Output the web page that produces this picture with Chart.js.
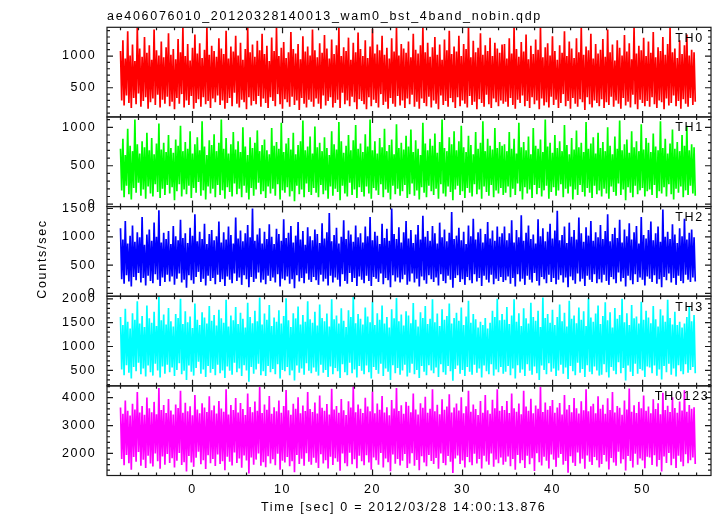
<!DOCTYPE html>
<html>
<head>
<meta charset="utf-8">
<title>ae406076010 wam0 bst 4band</title>
<script src="https://cdn.jsdelivr.net/npm/chart.js@4.4.1/dist/chart.umd.min.js"></script>
<style>
  html, body { margin: 0; padding: 0; background: #fff; }
  canvas { display: block; }
</style>
</head>
<body>
<canvas id="lc" width="717" height="516"></canvas>
<script>
// ---- light curve data (counts/sec) ----
// each band: upper and lower excursions, alternating in time
const T_START = -8;      // sec
const T_BIN = 0.1333;    // sec between points

const TH0_HI = [
  1080,1250,960,1390,1010,1180,920,1450,1120,990,1300,1050,1170,940,1420,1090,1010,1230,980,1140,
  1360,1020,1110,950,1270,1060,1450,1000,1190,930,1130,1340,1040,1200,970,1100,1450,1020,1160,1080,
  990,1280,1120,1030,1400,960,1150,1070,1320,1010,1210,940,1110,1450,1060,1180,990,1240,1090,1350,
  1030,1160,920,1290,1080,1450,1000,1130,1220,970,1060,1380,1110,1040,1190,950,1310,1070,1150,1010,
  1420,1090,980,1200,1050,1330,1120,960,1260,1030,1170,1450,1000,1140,1080,1290,940,1210,1060,1370,
  1110,1000,1250,970,1150,1430,1040,1180,1090,1320,1020,1130,960,1280,1070,1450,1010,1190,1120,1050,
  1230,980,1350,1100,1040,1170,1450,1060,1210,990,1140,1300,1020,1180,940,1260,1090,1400,1030,1150,
  1070,1320,1000,1190,1110,1450,980,1240,1060,1130,1360,1020,1170,1080,1290,1000,1210,1120,1050,1180,
  1190,960,1280,1040,1450,1110,990,1220,1070,1340,950,1160,1030,1260,1100,1450,980,1140,1200,1010,
  1310,1080,940,1170,1050,1390,1000,1230,1120,970,1280,1060,1450,1020,1150,1090,1350,960,1190,1040,
  1100,1270,990,1420,1060,1180,930,1250,1130,1010,1330,1070,1200,950,1450,1040,1160,1090,1290,1000,
  1230,1050,1380,980,1140,1080,1300,1020,1190,1450,1060,1120,970,1250,1030,1170,1340,1010,1100,1060
];
const TH0_LO = [
  300,220,380,260,180,340,240,410,200,290,350,170,270,330,230,390,190,310,250,360,
  210,280,160,340,250,400,190,300,230,370,170,260,320,200,350,240,290,180,330,270,
  380,230,300,170,260,340,210,420,250,190,310,270,160,350,220,290,240,370,200,330,
  260,180,350,290,210,400,240,170,320,270,200,360,230,300,150,340,250,190,310,280,
  200,330,250,170,380,220,290,350,190,260,310,180,420,240,300,210,360,270,160,320,
  290,240,160,350,210,310,260,190,400,230,280,170,340,250,200,370,220,300,180,330,
  240,390,200,280,170,330,260,210,360,190,300,250,160,380,230,290,200,340,270,180,
  350,210,300,250,190,370,230,280,160,320,260,200,390,240,180,330,270,210,300,250,
  280,200,340,230,170,310,260,380,210,290,180,350,240,300,160,330,220,270,190,360,
  230,310,180,260,400,210,290,170,340,250,200,320,270,150,350,240,190,300,260,210,
  320,180,270,230,360,200,300,250,170,340,220,280,190,390,240,160,310,260,210,290,
  200,350,240,180,300,270,160,330,220,260,380,210,290,170,320,250,200,340,230,280
];

const TH1_HI = [
  720,850,640,980,760,690,1100,780,660,820,740,930,700,860,650,790,1050,710,800,680,
  900,730,670,840,760,1020,690,810,720,950,660,780,870,700,1080,750,640,830,770,910,
  690,800,1100,720,860,660,780,940,710,820,680,1000,750,640,870,730,800,960,690,770,
  840,700,650,990,760,810,720,1060,680,790,860,710,930,650,770,820,1090,700,750,880,
  660,1010,740,800,690,870,730,640,950,780,710,1070,820,670,760,900,700,830,1030,720,
  790,680,910,750,1100,700,820,660,860,740,980,690,770,840,650,1040,730,800,710,890,
  750,970,680,830,720,640,1060,790,700,850,760,920,670,810,1100,730,690,870,780,950,
  700,820,1020,740,680,890,770,650,940,720,800,1080,690,850,760,710,990,730,810,760,
  780,690,940,720,850,660,1060,740,810,700,880,650,990,760,720,840,680,1100,750,800,
  670,900,730,820,690,1030,770,650,860,710,960,740,800,680,1070,720,790,870,660,930,
  730,810,690,1000,760,650,880,720,1090,700,780,840,670,950,740,820,690,1040,710,860,
  800,680,920,750,700,1080,730,850,660,790,970,720,810,690,900,760,1020,700,780,740
];
const TH1_LO = [
  180,90,240,130,60,210,150,280,110,190,70,230,140,100,260,160,80,200,120,250,
  140,220,50,170,260,100,190,130,240,80,210,150,290,110,180,60,230,140,200,90,
  250,120,180,70,220,160,100,270,130,200,90,240,150,60,210,110,190,280,130,170,
  80,230,140,200,110,260,60,180,150,220,100,170,40,240,130,190,90,270,160,120,
  210,150,90,250,130,180,70,230,110,200,160,50,240,140,100,280,120,190,80,220,
  160,100,230,140,70,210,180,120,260,90,190,150,60,240,130,200,110,170,250,80,
  130,270,110,180,60,220,150,90,240,170,120,200,70,260,140,100,230,160,50,190,
  240,120,170,80,210,150,100,260,130,190,70,230,160,110,250,90,180,140,210,120,
  150,230,90,200,120,270,170,60,220,140,190,80,250,130,210,100,180,240,70,160,
  220,110,180,260,90,200,140,230,60,190,120,250,160,100,210,150,80,240,130,180,
  100,200,140,70,230,160,110,270,120,190,50,220,150,90,240,130,180,210,100,170,
  190,120,250,80,170,140,220,100,260,130,60,200,150,230,90,180,120,240,140,110
];

const TH2_HI = [
  1150,950,1280,880,1020,1200,910,1080,990,1350,860,1040,1130,930,1250,1000,1470,900,1070,960,
  1100,870,1190,1010,940,1300,980,1060,890,1160,1020,1400,920,1090,960,1230,870,1050,1120,940,
  1010,1270,900,1080,950,1180,1030,880,1340,970,1110,920,1060,1210,990,1500,930,1040,1150,880,
  1090,960,1220,1000,870,1140,1050,930,1310,980,1070,1190,900,1020,1260,950,1100,860,1170,1010,
  940,1130,1050,890,1240,970,1080,1420,920,1030,1160,880,1000,1290,960,1110,1040,910,1200,990,
  1060,900,1180,1010,1350,940,1090,1020,870,1230,980,1140,930,1500,1050,960,1170,900,1080,1280,
  970,1120,890,1040,1210,950,1370,1000,1100,930,1190,1060,880,1250,990,1130,920,1070,1440,960,
  1020,1160,940,1090,870,1200,1010,1320,950,1080,1140,900,1050,1260,970,1110,930,1180,1000,1060,
  1180,940,1060,1290,900,1120,990,1380,930,1070,1200,960,1040,880,1310,1010,1150,920,1090,1230,
  970,1110,1460,940,1030,1180,890,1250,1000,1120,950,1340,1060,910,1170,1020,1280,930,1080,990,
  1210,960,1100,1400,920,1050,1160,980,1300,900,1130,1010,1240,950,1080,1190,880,1350,1030,970,
  1120,1270,940,1060,1180,910,1480,1000,1090,960,1220,1040,890,1150,1010,1320,950,1070,1130,990
];
const TH2_LO = [
  250,170,320,210,120,290,230,360,190,270,140,310,220,180,340,240,130,280,200,330,
  210,300,150,260,350,190,240,100,320,230,170,290,380,200,260,140,310,220,270,160,
  330,200,250,130,300,240,180,350,220,280,150,320,250,110,290,200,260,370,190,240,
  160,310,220,280,190,340,120,260,230,300,170,250,90,320,210,270,180,350,240,200,
  290,230,150,330,210,260,140,310,190,280,240,120,340,220,170,360,200,270,130,300,
  240,180,310,220,130,290,260,200,350,160,270,230,110,320,210,280,190,250,330,150,
  210,350,190,260,120,300,230,170,320,250,200,280,140,340,220,180,310,240,100,270,
  320,200,250,150,290,230,180,340,210,270,130,310,240,190,330,160,260,220,290,200,
  230,300,170,270,120,340,210,260,150,310,240,190,360,220,140,290,250,180,330,200,
  270,160,240,320,190,280,110,300,230,170,350,210,260,130,310,240,200,340,180,250,
  190,330,220,150,290,250,180,370,210,270,120,310,230,160,340,200,280,240,140,300,
  260,200,320,170,250,110,290,230,350,190,270,150,310,220,180,330,240,200,280,210
];

const TH3_HI = [
  1620,1450,1790,1520,1380,1700,1560,1950,1480,1640,1410,1860,1590,1500,1730,1430,2040,1550,1670,1460,
  1810,1530,1420,1680,1600,2000,1470,1740,1510,1630,1390,1900,1560,1450,1720,1610,1480,1850,1540,1660,
  1440,1770,1590,1500,1980,1420,1650,1550,1830,1470,1710,1580,1400,1920,1620,1490,1750,1530,2030,1460,
  1690,1560,1870,1430,1610,1520,1760,1480,1640,2010,1550,1410,1700,1590,1840,1460,1660,1520,1950,1570,
  1500,1730,1440,1880,1600,1530,1690,1420,1990,1570,1650,1480,1800,1540,1410,1760,1620,2040,1490,1680,
  1580,1460,1820,1630,1510,1940,1450,1700,1560,1860,1480,1620,1400,1780,1590,2020,1530,1670,1440,1740,
  1650,1490,1910,1560,1420,1720,1600,1850,1470,1580,1990,1510,1690,1430,1780,1560,1640,1900,1480,1600,
  1710,1540,1820,1450,1630,1960,1500,1680,1570,1400,1520,1450,1600,1380,1500,1750,1620,2000,1550,1680,
  1560,1830,1470,1650,1990,1520,1700,1430,1800,1590,1480,1920,1620,1540,1750,1410,2030,1600,1680,1500,
  1770,1450,1620,1880,1530,1710,1420,1960,1580,1650,1490,1820,1560,1740,1430,2010,1610,1520,1690,1860,
  1470,1640,1930,1550,1720,1400,1810,1580,1660,2000,1510,1700,1450,1870,1590,1630,1480,1940,1560,1750,
  1610,1490,1850,1570,1420,1780,1650,1520,1980,1600,1460,1730,1450,1520,1400,1480,1620,1840,1530,1660
];
const TH3_LO = [
  520,400,610,450,330,570,480,660,420,540,370,600,460,390,640,500,350,580,430,620,
  460,560,380,510,650,420,490,300,600,470,390,550,680,430,520,360,590,450,530,400,
  620,440,500,340,580,490,410,660,460,540,380,610,500,260,570,430,520,640,400,480,
  380,590,460,530,420,630,330,510,480,570,400,500,290,600,450,540,410,650,490,440,
  560,470,390,620,450,510,360,580,420,550,480,340,630,460,400,660,440,520,350,590,
  490,420,600,460,330,570,510,430,640,380,540,470,300,610,440,550,410,500,620,370,
  450,640,420,510,340,590,470,400,610,500,440,560,360,630,460,410,590,480,280,530,
  600,430,510,380,570,470,410,620,450,540,350,600,480,420,630,390,520,460,570,430,
  470,590,400,540,330,610,450,520,380,630,490,410,580,440,300,600,510,420,650,470,
  540,380,500,620,430,560,320,590,480,400,660,450,530,360,610,470,420,580,500,390,
  410,630,460,350,570,490,420,670,440,550,290,600,470,380,640,430,530,500,360,580,
  560,440,600,390,520,310,590,460,640,410,540,370,610,480,420,630,450,510,570,440
];

const TH0123_HI = [
  3650,3420,3900,3530,3360,3780,3580,4200,3470,3700,3390,4010,3620,3480,3850,3410,4350,3560,3740,3450,
  3950,3540,3400,3760,3630,4250,3460,3820,3510,3690,3370,4100,3580,3440,3800,3650,3490,4050,3550,3720,
  3430,3880,3610,3500,4300,3400,3740,3560,3990,3470,3810,3590,3380,4150,3670,3480,3860,3530,4380,3450,
  3760,3570,4060,3420,3660,3510,3900,3460,3700,4280,3550,3390,3780,3600,4020,3440,3720,3520,4200,3590,
  3490,3830,3430,4080,3640,3530,3770,3400,4320,3580,3700,3460,3950,3550,3380,3870,3650,4400,3480,3760,
  3600,3450,4000,3680,3510,4220,3440,3790,3570,4060,3470,3660,3370,3920,3610,4350,3520,3730,3420,3850,
  3710,3480,4150,3580,3400,3800,3640,4030,3460,3600,4300,3510,3750,3410,3940,3570,3680,4120,3470,3650,
  3790,3540,4020,3440,3690,4250,3500,3760,3590,3380,3880,3460,4100,3550,3420,3930,3620,4300,3530,3700,
  3560,3880,3450,4150,3620,3500,3790,3410,4250,3680,3530,3960,3440,3720,3600,4380,3490,3830,3570,3700,
  3920,3460,3650,3810,3400,4100,3580,3740,3480,3990,3620,3430,3870,3550,4300,3510,3690,3780,3440,4050,
  3600,3750,3420,3980,3560,4200,3470,3700,3640,3390,3900,3580,4330,3500,3730,3450,3850,3620,4080,3530,
  3680,3440,3940,3590,3800,3410,4180,3560,3710,3490,4020,3630,3460,3860,3540,4270,3500,3740,3600,3660
];
const TH0123_LO = [
  1800,1580,1950,1650,1420,1870,1700,2050,1560,1780,1480,1920,1640,1530,2000,1720,1450,1890,1600,1980,
  1660,1830,1500,1740,2020,1590,1690,1350,1910,1680,1520,1850,2060,1610,1760,1440,1940,1650,1800,1550,
  1960,1620,1720,1400,1880,1700,1570,2040,1660,1820,1490,1930,1750,1280,1860,1600,1780,2000,1560,1690,
  1510,1900,1640,1790,1580,1990,1420,1740,1680,1870,1540,1720,1330,1950,1620,1810,1560,2010,1700,1600,
  1850,1670,1480,1970,1640,1760,1460,1880,1590,1830,1700,1380,2000,1650,1540,2030,1610,1790,1470,1920,
  1720,1580,1940,1680,1420,1860,1760,1600,2020,1500,1820,1690,1360,1960,1630,1800,1570,1740,1980,1480,
  1640,2010,1560,1770,1400,1900,1680,1540,1950,1730,1620,1840,1450,2000,1660,1580,1910,1700,1300,1820,
  1930,1620,1750,1500,1870,1690,1580,1990,1640,1800,1460,1920,1710,1600,2000,1520,1780,1650,1860,1600,
  1700,1890,1540,1800,1420,1950,1650,1760,1480,1920,1610,1830,1370,2010,1690,1570,1880,1740,1460,1960,
  1780,1520,1850,1980,1600,1730,1310,1900,1670,1550,2040,1640,1810,1450,1930,1700,1590,1870,1760,1500,
  1620,1950,1710,1430,1840,1680,1560,2060,1640,1790,1390,1910,1730,1500,1990,1600,1820,1750,1470,1880,
  1860,1590,1940,1530,1770,1350,1890,1660,2020,1580,1810,1480,1920,1700,1540,1970,1650,1760,1860,1620
];

// axis ranges and labelled ticks, one entry per panel (top to bottom)
const BANDS = ["TH0", "TH1", "TH2", "TH3", "TH0123"];
const Y_MIN = [40, -31, -51, 175, 1210];
const Y_MAX = [1453, 1135, 1534, 2055, 4425];
const Y_TICKS = [[500, 1000], [0, 500, 1000], [0, 500, 1000, 1500], [500, 1000, 1500, 2000], [2000, 3000, 4000]];
const Y_MINOR = [100, 100, 100, 100, 200];
const X_TICKS = [0, 10, 20, 30, 40, 50];
const X_MINOR = 2;

const COLORS = ["#ff0000", "#00ff00", "#0000ff", "#00ffff", "#ff00ff"];
const HI = [TH0_HI, TH1_HI, TH2_HI, TH3_HI, TH0123_HI];
const LO = [TH0_LO, TH1_LO, TH2_LO, TH3_LO, TH0123_LO];

const FAMILY = "'Liberation Sans', Arial, Helvetica, sans-serif";
const FONT = "12.5px " + FAMILY;
const SPACING = "1.7px";

function curve(hi, lo) {
  const pts = [];
  const n = Math.min(hi.length, lo.length);
  for (let i = 0; i < n; i++) {
    pts.push({ x: T_START + 2 * i * T_BIN, y: hi[i] });
    pts.push({ x: T_START + (2 * i + 1) * T_BIN, y: lo[i] });
  }
  return pts;
}

// frame, inward ticks and the texts, drawn in the QDP style
const qdpFrame = {
  id: "qdpFrame",
  beforeDraw(chart) {
    chart.ctx.letterSpacing = SPACING;
  },
  afterDraw(chart) {
    const { ctx, chartArea: a, scales } = chart;
    const xs = scales.x;
    ctx.save();
    ctx.letterSpacing = SPACING;
    ctx.strokeStyle = "#1a1a1a";
    ctx.lineWidth = 1.2;
    ctx.fillStyle = "#000";
    ctx.font = FONT;
    BANDS.forEach((name, k) => {
      const ys = scales["y" + k];
      ctx.strokeRect(a.left, ys.top, a.right - a.left, ys.bottom - ys.top);
      ctx.beginPath();
      const step = Y_MINOR[k];
      for (let v = Math.ceil(ys.min / step) * step; v <= ys.max; v += step) {
        const y = ys.getPixelForValue(v);
        const len = Y_TICKS[k].includes(v) ? 6 : 3;
        ctx.moveTo(a.left, y); ctx.lineTo(a.left + len, y);
        ctx.moveTo(a.right, y); ctx.lineTo(a.right - len, y);
      }
      for (let t = Math.ceil(xs.min / X_MINOR) * X_MINOR; t <= xs.max; t += X_MINOR) {
        const x = xs.getPixelForValue(t);
        const len = X_TICKS.includes(t) ? 6 : 3;
        ctx.moveTo(x, ys.top); ctx.lineTo(x, ys.top + len);
        ctx.moveTo(x, ys.bottom); ctx.lineTo(x, ys.bottom - len);
      }
      ctx.stroke();
      ctx.textAlign = "right";
      ctx.textBaseline = "alphabetic";
      ctx.fillText(name, k === 4 ? 709.5 : 704, ys.top + 14.5);
    });
    ctx.textAlign = "left";
    ctx.fillText("ae406076010_20120328140013_wam0_bst_4band_nobin.qdp", 107, 19.5);
    ctx.fillText("Time [sec] 0 = 2012/03/28 14:00:13.876", 261, 511);
    ctx.translate(46, 259);
    ctx.rotate(-Math.PI / 2);
    ctx.textAlign = "center";
    ctx.fillText("Counts/sec", 0, 0);
    ctx.restore();
  }
};

const tickFont = { family: FAMILY, size: 12.5 };
const scales = {
  x: {
    type: "linear", position: "bottom", min: -9.5, max: 57.6,
    grid: { display: false, drawTicks: false }, border: { display: false },
    ticks: { padding: 7, color: "#000", font: tickFont, autoSkip: false, maxRotation: 0, callback: (v) => String(v) },
    afterBuildTicks: (s) => { s.ticks = X_TICKS.map((v) => ({ value: v })); },
    afterFit: (s) => { s.height = 40.5; }
  }
};
BANDS.forEach((name, k) => {
  scales["y" + k] = {
    type: "linear", position: "left", stack: "lc", stackWeight: 1, weight: BANDS.length - k,
    min: Y_MIN[k], max: Y_MAX[k],
    grid: { display: false, drawTicks: false }, border: { display: false },
    ticks: { padding: 10.5, color: "#000", font: tickFont, autoSkip: false, callback: (v) => String(v) },
    afterBuildTicks: (s) => { s.ticks = Y_TICKS[k].map((v) => ({ value: v })); },
    afterFit: (s) => { s.width = 107; }
  };
});

new Chart(document.getElementById("lc"), {
  type: "line",
  data: {
    datasets: BANDS.map((name, k) => ({
      label: name,
      data: curve(HI[k], LO[k]),
      yAxisID: "y" + k,
      borderColor: COLORS[k],
      borderWidth: 1.7,
      pointRadius: 0,
      tension: 0,
      fill: false,
      clip: 0
    }))
  },
  options: {
    responsive: false,
    devicePixelRatio: 1,
    animation: false,
    layout: { padding: { top: 27.3, right: 6, left: 0, bottom: 0 } },
    plugins: { legend: { display: false }, tooltip: { enabled: false }, title: { display: false } },
    scales
  },
  plugins: [qdpFrame]
});
</script>
</body>
</html>
